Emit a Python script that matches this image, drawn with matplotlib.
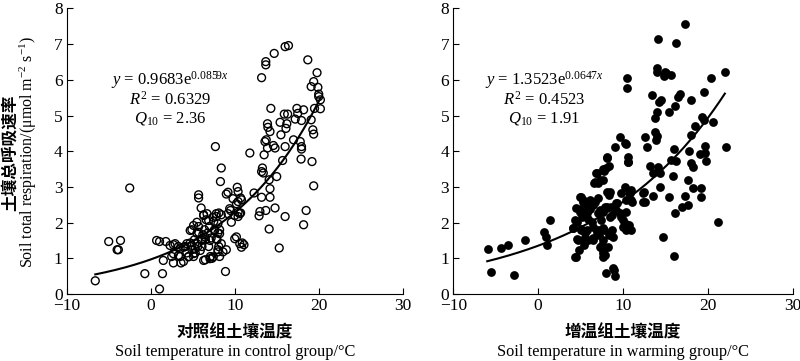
import matplotlib
matplotlib.use("Agg")
import matplotlib.pyplot as plt
import numpy as np

plt.rcParams['font.family'] = ['Liberation Serif', 'Noto Sans CJK SC']
plt.rcParams['mathtext.fontset'] = 'custom'
plt.rcParams['mathtext.rm'] = 'Liberation Serif'
plt.rcParams['mathtext.it'] = 'Liberation Serif:italic'
plt.rcParams['axes.unicode_minus'] = True

CJK = 'Noto Sans CJK SC'

# control group (open circles)
ctrl_t = [-6.6, -5.0, -3.6, -4.0, -3.85, -2.5, -0.7, 0.7, 1.05, 1.05, 1.4, 1.5, 1.8,
          2.5, 2.7, 2.7, 3.3, 3.6, 3.9, 3.5, 4.1, 4.3, 4.5, 4.7, 4.9, 5.1, 4.9, 5.2,
          5.3, 5.5, 5.6, 5.7, 5.7, 5.7, 6.0, 6.0, 6.1, 6.2, 6.3, 6.4, 6.5, 6.5, 6.6,
          6.8, 6.9, 7.0, 7.1, 7.2, 7.3, 7.5, 7.6, 7.7, 7.8, 7.9, 8.0, 8.1, 8.2, 8.2,
          8.3, 8.4, 8.4, 8.0, 8.1, 8.9, 9.0, 9.2, 9.5, 10.2, 10.3, 10.4, 10.4, 10.4,
          10.7, 10.7, 10.8, 11.1, 10.9, 11.8, 12.3, 12.9, 13.0, 13.2, 13.3, 13.2, 13.4,
          13.2, 13.5, 13.7, 13.7, 13.6, 13.75, 13.7, 13.9, 13.95, 13.9, 14.1, 14.2,
          14.2, 14.2, 14.1, 14.3, 14.6, 14.8, 14.7, 14.8, 15.0, 15.3, 15.4, 15.5, 15.7,
          15.9, 16.0, 16.4, 16.0, 16.0, 16.1, 16.3, 16.2, 17.0, 17.2, 17.4, 17.5, 17.8,
          17.9, 17.95, 17.95, 18.2, 17.95, 18.2, 18.5, 18.7, 19.1, 19.1, 19.3, 19.4,
          19.2, 19.4, 19.4, 19.5, 19.8, 19.9, 20.0, 20.2, 20.2, 20.0,
          4.7, 5.1, 5.5, 5.7, 6.3, 6.7, 6.9, 7.4, 7.8, 8.0, 7.6, 8.2, 7.8, 8.4, 7.05,
          6.5, 6.1, 5.5, 4.9, 4.3, 3.9, 3.5, 2.9, 2.3, 2.7, 3.3, 4.5, 5.1, 5.3, 5.9,
          6.3, 7.05, 7.45, 8.0, 8.6, 10.0, 10.6, 10.8, 9.0, 9.4, 9.8, 10.2, 10.4, 9.2,
          9.6, 10.0, 10.6]
ctrl_r = [0.37, 1.47, 1.50, 1.24, 1.24, 2.97, 0.57, 1.50, 1.47, 0.14, 0.57, 0.94, 1.47,
          1.05, 1.38, 0.87, 1.33, 0.87, 0.91, 1.05, 1.33, 1.15, 1.05, 1.43, 1.24, 1.05,
          1.80, 1.52, 1.15, 1.70, 1.33, 1.89, 2.78, 2.69, 2.41, 1.52, 1.33, 1.66, 2.22,
          1.80, 1.52, 0.96, 2.08, 1.71, 1.33, 1.89, 1.05, 1.57, 1.00, 2.03, 1.80, 4.13,
          2.17, 1.52, 1.24, 2.27, 1.05, 1.80, 3.15, 3.53, 2.22, 1.71, 1.33, 0.63, 1.24,
          2.85, 2.34, 1.60, 2.99, 2.87, 2.59, 2.17, 2.69, 2.27, 2.64, 1.38, 1.43, 3.95,
          2.83, 2.19, 2.31, 6.06, 3.53, 3.43, 3.39, 2.71, 3.90, 6.51, 6.42, 4.27, 4.32,
          2.34, 4.77, 4.67, 4.09, 1.82, 4.55, 2.95, 2.71, 3.20, 5.20, 4.16, 4.09, 6.74,
          2.41, 3.29, 1.29, 4.81, 4.46, 3.74, 5.04, 6.93, 6.96, 4.13, 2.17, 4.64, 5.04,
          4.77, 4.32, 4.90, 5.20, 5.06, 4.27, 3.78, 4.13, 4.06, 1.94, 4.86, 5.16, 2.34,
          6.56, 4.88, 5.81, 4.60, 4.48, 3.71, 3.03, 5.95, 5.20, 6.20, 5.79, 5.60, 5.44,
          5.19, 5.53,
          1.78, 1.92, 2.01, 1.73, 2.20, 2.25, 2.06, 2.15, 2.25, 1.97, 1.78, 1.69, 1.55,
          1.41, 1.50, 1.59, 1.50, 1.41, 1.36, 1.41, 1.31, 1.27, 1.41, 1.36, 1.13, 1.08,
          1.04, 1.13, 1.27, 1.22, 0.94, 0.99, 1.04, 1.18, 1.18, 1.55, 1.41, 1.31, 2.80,
          2.39, 2.67, 2.53, 2.29, 2.25, 2.01, 2.20, 2.25]

# warming group (filled circles)
warm_t = [-5.9, -5.6, -4.4, -3.5, -2.9, -1.5, 0.66, 0.94, 1.05, 1.45, 4.1, 4.5, 4.6, 4.6,
          4.9, 5.0, 5.0, 4.8, 5.2, 5.3, 5.4, 5.4, 5.5, 5.7, 5.8, 5.9, 6.1, 6.3, 6.5,
          6.6, 6.7, 6.8, 6.9, 7.0, 7.1, 7.2, 7.3, 7.4, 7.5, 7.6, 7.6, 7.7, 7.8, 7.9,
          8.0, 8.0, 8.1, 8.1, 8.2, 8.3, 8.3, 8.4, 8.5, 8.55, 8.7, 8.8, 8.9, 9.0, 9.1,
          9.2, 9.3, 9.6, 9.65, 9.8, 9.96, 10.2, 10.35, 10.35, 10.4, 10.5, 10.5, 10.6,
          10.6, 10.7, 10.7, 10.8, 10.9, 11.0, 11.1, 12.4, 12.5, 12.6, 12.8, 13.2, 13.4,
          13.5, 13.55, 13.75, 13.75, 13.9, 13.95, 14.0, 14.1, 13.95, 14.0, 14.1, 14.25,
          14.4, 14.5, 14.4, 14.7, 14.8, 14.9, 15.1, 15.4, 15.4, 15.6, 15.6, 15.9, 16.0,
          16.05, 16.1, 16.1, 16.2, 16.3, 16.5, 16.7, 16.9, 17.3, 17.3, 17.7, 17.8, 17.7,
          18.0, 18.05, 18.05, 18.2, 18.2, 18.5, 19.2, 19.2, 19.1, 19.3, 19.5, 19.6,
          19.7, 19.7, 19.8, 20.4, 20.6, 21.25, 22.0, 22.1,
          10.2, 10.6, 8.07, 7.7, 7.8, 6.9, 6.7, 7.1, 8.5, 5.1, 5.3, 6.1, 6.5, 5.9, 4.5,
          4.9, 7.3, 7.7, 8.07, 8.7, 9.2, 9.8, 10.4, 10.4, 10.8, 11.0, 12.4, 12.6, 4.3,
          4.1, 5.1, 5.5, 6.5, 6.9, 7.3, 7.7, 10.0, 10.6, 4.7, 5.9, 6.5, 7.7, 7.3, 7.7,
          7.9, 4.3, 8.85]
warm_r = [1.26, 0.61, 1.29, 1.38, 0.53, 1.50, 1.73, 1.60, 1.38, 2.08, 1.85, 1.04, 2.03,
          1.54, 2.73, 2.38, 1.82, 1.24, 2.17, 2.64, 1.38, 1.54, 2.53, 2.27, 1.80, 2.10,
          2.38, 2.03, 1.52, 3.11, 2.57, 3.39, 1.80, 2.27, 2.69, 1.66, 3.20, 2.08, 1.38,
          3.20, 1.05, 1.24, 1.80, 2.45, 3.54, 0.59, 3.81, 2.85, 1.33, 1.66, 2.78, 3.59,
          2.17, 2.45, 1.80, 1.61, 0.68, 0.51, 4.13, 2.36, 2.55, 4.39, 2.27, 2.83, 2.08,
          3.01, 4.21, 1.97, 1.80, 6.04, 5.76, 3.85, 3.71, 2.83, 1.94, 2.64, 1.80, 2.92,
          2.57, 2.59, 2.85, 4.41, 4.11, 3.59, 5.58, 2.75, 3.39, 4.93, 4.55, 4.32, 6.23,
          6.32, 7.14, 5.11, 4.43, 3.57, 5.39, 3.39, 5.44, 2.99, 1.61, 6.11, 6.23, 6.18,
          5.11, 2.73, 3.76, 6.14, 3.31, 1.07, 4.06, 5.27, 2.27, 3.74, 7.02, 5.53, 5.60,
          2.45, 7.56, 2.75, 3.20, 4.02, 2.50, 4.46, 5.44, 3.67, 3.57, 2.97, 4.71, 2.97,
          2.71, 3.93, 4.95, 4.88, 5.67, 4.15, 3.96, 3.74, 6.04, 4.83, 2.01, 6.23, 4.13,
          4.22, 3.70, 3.84, 3.50, 3.45, 3.38, 3.14, 3.10, 2.86, 2.72, 2.58, 2.63, 2.49,
          2.45, 2.40, 2.30, 2.35, 2.30, 2.45, 2.21, 2.54, 2.17, 2.30, 2.63, 2.82, 2.63,
          2.82, 2.58, 2.07, 1.84, 1.79, 1.70, 1.89, 1.75, 1.79, 1.84, 1.89, 1.84, 1.51,
          1.51, 1.56, 1.51, 1.33, 1.14, 1.09, 1.05, 0.72]

# fitted curves y = a*exp(b*x), coefficients as printed on the chart
ctrl_fit = (0.9683, 0.0859, -6.6, 20.2)
warm_fit = (1.3523, 0.0647, -6.0, 22.0)

ctrl_txt = [r'$y$ = 0.9683e$^{0.0859\mathit{x}}$', r'$R^2$ = 0.6329', r'$Q_{10}$ = 2.36']
warm_txt = [r'$y$ = 1.3523e$^{0.0647\mathit{x}}$', r'$R^2$ = 0.4523', r'$Q_{10}$ = 1.91']

fig = plt.figure(figsize=(8, 3.61), dpi=100)
ax1 = fig.add_axes([0.0834, 0.1856, 0.42, 0.791])
ax2 = fig.add_axes([0.5666, 0.1856, 0.4243, 0.791])

ax1.scatter(ctrl_t, ctrl_r, s=32, facecolors='none', edgecolors='black', linewidths=1.0, zorder=3)
ax2.scatter(warm_t, warm_r, s=40, color='black', linewidths=0, zorder=3)

for ax, fit, txt, tx in [(ax1, ctrl_fit, ctrl_txt, 2.3), (ax2, warm_fit, warm_txt, 0.7)]:
    a, b, x0, x1 = fit
    xx = np.linspace(x0, x1, 200)
    ax.plot(xx, a * np.exp(b * xx), color='black', lw=1.5, zorder=4)
    for t, yy in zip(txt, [5.99, 5.45, 4.92]):
        ax.text(tx, yy, t, ha='center', va='center', fontsize=12)
    ax.set_xlim(-10, 30)
    ax.set_ylim(0, 8)
    ax.set_xticks([-10, 0, 10, 20, 30])
    ax.set_yticks(range(9))
    ax.spines['top'].set_visible(False)
    ax.spines['right'].set_visible(False)
    ax.tick_params(direction='in', length=4, width=0.8, labelsize=12.5, pad=3)

# axis titles
fig.text(0.2935, 0.078, '对照组土壤温度', family=CJK, fontsize=12, weight='bold', ha='center', va='center')
fig.text(0.2935, 0.025, 'Soil temperature in control group/°C', fontsize=11.8, ha='center', va='center')
fig.text(0.779, 0.078, '增温组土壤温度', family=CJK, fontsize=12, weight='bold', ha='center', va='center')
fig.text(0.779, 0.025, 'Soil temperature in warming group/°C', fontsize=11.8, ha='center', va='center')

fig.text(0.0125, 0.578, '土壤总呼吸速率', family=CJK, fontsize=12, weight='bold',
         rotation=90, ha='center', va='center')
fig.text(0.035, 0.578, r'Soil total respiration/($\mathrm{\mu}$mol m$^{-2}$ s$^{-1}$)', fontsize=11.5,
         rotation=90, ha='center', va='center')

fig.savefig('out.png', dpi=100)
